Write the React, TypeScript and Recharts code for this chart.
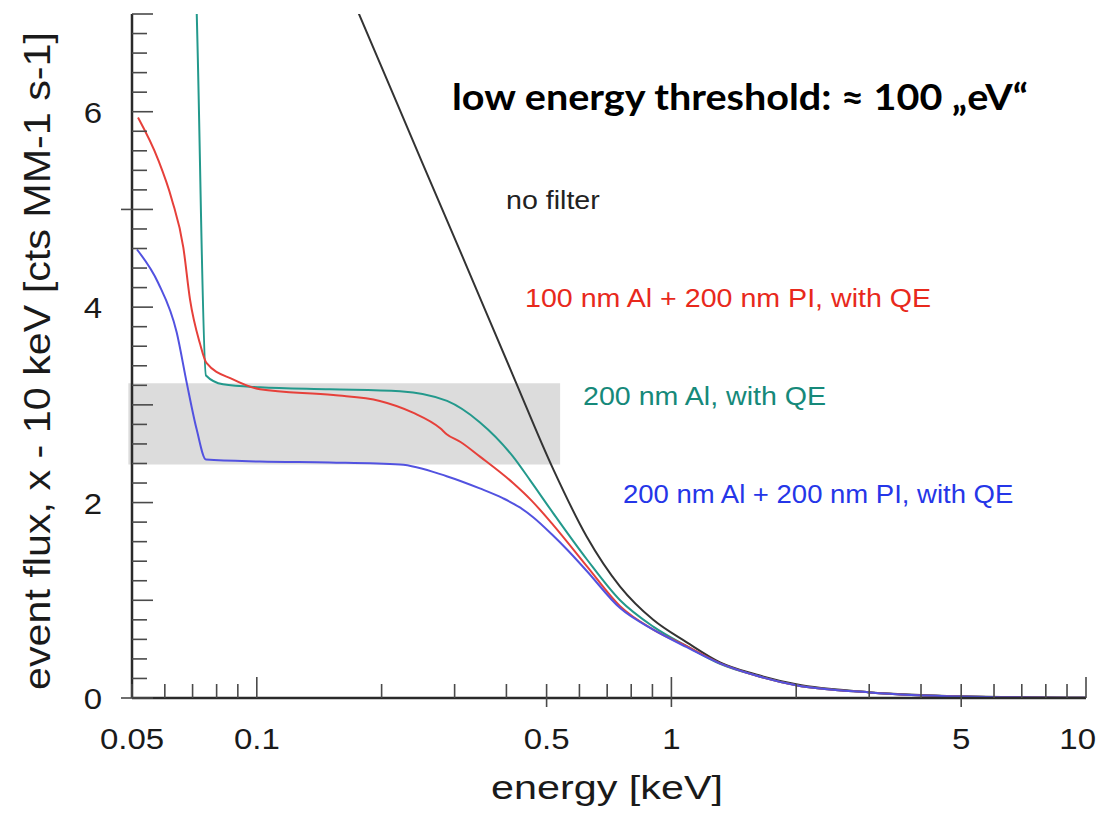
import React from "react";
import { LineChart, Line, XAxis, YAxis, ReferenceArea } from "recharts";

// energy [keV] / event flux [cts MM-1 s-1]
const noFilterE = [0.15, 0.198, 0.25, 0.3125, 0.415, 0.519, 0.625, 0.752, 0.904, 1.089, 1.31, 1.6, 2.0, 3.0, 5.0, 10];
const noFilterFlux = [7.7, 6.5, 5.49, 4.53, 3.3, 2.34, 1.65, 1.14, 0.8, 0.57, 0.365, 0.24, 0.14, 0.06, 0.018, 0.002];

const al200E = [0.06, 0.0707, 0.0754, 0.0829, 0.1018, 0.15, 0.2215, 0.2877, 0.3454, 0.415, 0.456, 0.519, 0.625, 0.752, 0.904, 1.089, 1.31, 1.6, 2.0, 3.0, 5.0, 10];
const al200Flux = [8.5, 7.6, 3.3, 3.21, 3.18, 3.16, 3.14, 3.04, 2.82, 2.47, 2.23, 1.89, 1.42, 1.0, 0.73, 0.53, 0.35, 0.23, 0.13, 0.057, 0.016, 0.002];

const al100PiE = [0.0517, 0.0578, 0.0624, 0.0665, 0.069, 0.0729, 0.0756, 0.0876, 0.1018, 0.153, 0.198, 0.238, 0.277, 0.287, 0.31, 0.3454, 0.415, 0.46, 0.519, 0.625, 0.752, 0.904, 1.089, 1.31, 1.6, 2.0, 3.0, 5.0, 10];
const al100PiFlux = [5.94, 5.51, 5.1, 4.61, 4.08, 3.63, 3.43, 3.26, 3.16, 3.1, 3.04, 2.92, 2.76, 2.7, 2.62, 2.47, 2.2, 2.02, 1.77, 1.35, 0.94, 0.7, 0.53, 0.355, 0.23, 0.13, 0.057, 0.016, 0.002];

const al200PiE = [0.0514, 0.0578, 0.0641, 0.0678, 0.0716, 0.0754, 0.1018, 0.15, 0.2215, 0.287, 0.345, 0.392, 0.431, 0.464, 0.519, 0.56, 0.625, 0.752, 0.904, 1.089, 1.31, 1.6, 2.0, 3.0, 5.0, 10];
const al200PiFlux = [4.59, 4.25, 3.74, 3.22, 2.75, 2.44, 2.42, 2.41, 2.39, 2.27, 2.145, 2.045, 1.95, 1.85, 1.66, 1.52, 1.3, 0.92, 0.7, 0.52, 0.355, 0.23, 0.13, 0.057, 0.016, 0.002];

// shaded threshold band
const bandE = [0.049, 0.539];
const bandFlux = [2.39, 3.22];

// axis ticks
const xTicks = [0.05, 0.06, 0.07, 0.08, 0.09, 0.1, 0.2, 0.3, 0.4, 0.5, 0.6, 0.7, 0.8, 0.9, 1, 2, 3, 4, 5, 6, 7, 8, 9, 10];
const xLabelValues = [0.05, 0.1, 0.5, 1, 5, 10];
const xLabelTexts = ["0.05", "0.1", "0.5", "1", "5", "10"];
const xLongTicks = [0.1, 1, 10];
const xCrossTicks = [0.5, 1, 5];
const yTicks = Array.from({ length: 36 }, (_, i) => Math.round(i * 2) / 10);
const yLabelValues = [0, 2, 4, 6];
const yCrossTicks = [0, 5];

const toPoints = (e: number[], v: number[]) => e.map((x, i) => ({ e: x, v: v[i] }));

const TICK = "#4a4a4a";
const FRAME = "#2a2a2a";
const FONT = "'Liberation Sans', Arial, Helvetica, sans-serif";

function XTick(props: any) {
  const { x, y, payload, top } = props;
  const v = payload.value;
  const inLen = xLongTicks.includes(v) ? 21 : 14;
  const outLen = xCrossTicks.includes(v) ? 9 : 0;
  const dir = top ? 1 : -1;
  const idx = xLabelValues.indexOf(v);
  // last label sits at the right edge, keep it inside the frame
  const last = idx === xLabelValues.length - 1;
  return (
    <g>
      <line x1={x} x2={x} y1={y - dir * outLen} y2={y + dir * inLen} stroke={TICK} strokeWidth={1.6} />
      {!top && idx >= 0 && (
        <text
          transform={`translate(${last ? x + 10 : x},${y + 51}) scale(1.1,1)`}
          textAnchor={last ? "end" : "middle"}
          fontFamily={FONT}
          fontSize={30}
          fill="#1a1a1a"
        >
          {xLabelTexts[idx]}
        </text>
      )}
    </g>
  );
}

function YTick(props: any) {
  const { x, y, payload, right } = props;
  const v = payload.value;
  const inLen = Number.isInteger(v) ? 21 : 15;
  const outLen = yCrossTicks.includes(v) ? 11 : 0;
  const dir = right ? -1 : 1;
  return (
    <g>
      <line x1={x - dir * outLen} x2={x + dir * inLen} y1={y} y2={y} stroke={TICK} strokeWidth={1.6} />
      {!right && yLabelValues.includes(v) && (
        <text
          transform={`translate(${x - 30},${y + 11}) scale(1.1,1)`}
          textAnchor="end"
          fontFamily={FONT}
          fontSize={30}
          fill="#1a1a1a"
        >
          {v}
        </text>
      )}
    </g>
  );
}

function Note({ x, y, size, color, children }: any) {
  return (
    <text transform={`translate(${x},${y}) scale(1.1,1)`} fontFamily={FONT} fontSize={size} fill={color}>
      {children}
    </text>
  );
}

export default function App() {
  // container pulled over the body margin so chart coords == page coords
  const W = 1105;
  const H = 815;
  const axisLine = { stroke: FRAME, strokeWidth: 2.5 };
  return (
    <div style={{ position: "relative", width: W, height: H, margin: "-8px 0 -8px -8px" }}>
      <LineChart width={W} height={H} margin={{ top: 14, right: 19, bottom: 57, left: 32 }}>
        <XAxis
          xAxisId="bottom"
          dataKey="e"
          type="number"
          scale="log"
          domain={[0.05, 10]}
          allowDataOverflow
          ticks={xTicks}
          interval={0}
          tickSize={0}
          tickMargin={0}
          tickLine={false}
          axisLine={axisLine}
          height={60}
          tick={<XTick />}
        />
        <XAxis
          xAxisId="top"
          orientation="top"
          type="number"
          scale="log"
          domain={[0.05, 10]}
          allowDataOverflow
          ticks={xTicks}
          interval={0}
          tickSize={0}
          tickMargin={0}
          tickLine={false}
          axisLine={axisLine}
          height={0}
          tick={<XTick top />}
        />
        <YAxis
          yAxisId="left"
          type="number"
          domain={[0, 7]}
          allowDataOverflow
          ticks={yTicks}
          interval={0}
          tickSize={0}
          tickMargin={0}
          tickLine={false}
          axisLine={axisLine}
          width={100}
          tick={<YTick />}
        />
        <YAxis
          yAxisId="right"
          orientation="right"
          type="number"
          domain={[0, 7]}
          allowDataOverflow
          ticks={yTicks}
          interval={0}
          tickSize={0}
          tickMargin={0}
          tickLine={false}
          axisLine={axisLine}
          width={0}
          tick={<YTick right />}
        />
        <ReferenceArea
          xAxisId="bottom"
          yAxisId="left"
          x1={bandE[0]}
          x2={bandE[1]}
          y1={bandFlux[0]}
          y2={bandFlux[1]}
          fill="#dcdcdc"
          fillOpacity={1}
          stroke="none"
          ifOverflow="visible"
        />
        <Line
          xAxisId="bottom"
          yAxisId="left"
          data={toPoints(noFilterE, noFilterFlux)}
          dataKey="v"
          type="monotoneX"
          stroke="#333333"
          strokeWidth={2}
          dot={false}
          activeDot={false}
          isAnimationActive={false}
        />
        <Line
          xAxisId="bottom"
          yAxisId="left"
          data={toPoints(al200E, al200Flux)}
          dataKey="v"
          type="monotoneX"
          stroke="#23998c"
          strokeWidth={2}
          dot={false}
          activeDot={false}
          isAnimationActive={false}
        />
        <Line
          xAxisId="bottom"
          yAxisId="left"
          data={toPoints(al100PiE, al100PiFlux)}
          dataKey="v"
          type="monotoneX"
          stroke="#e6403a"
          strokeWidth={2}
          dot={false}
          activeDot={false}
          isAnimationActive={false}
        />
        <Line
          xAxisId="bottom"
          yAxisId="left"
          data={toPoints(al200PiE, al200PiFlux)}
          dataKey="v"
          type="monotoneX"
          stroke="#5252e0"
          strokeWidth={2}
          dot={false}
          activeDot={false}
          isAnimationActive={false}
        />
      </LineChart>
      <svg
        width={W}
        height={H}
        style={{ position: "absolute", left: 0, top: 0, pointerEvents: "none" }}
      >
        <text
          x={452}
          y={110}
          fontFamily="Lato, 'DejaVu Sans', sans-serif"
          fontWeight="bold"
          fontSize={36}
          fill="#000"
          textLength={576}
          lengthAdjust="spacingAndGlyphs"
        >
          low energy threshold: ≈ 100 „eV“
        </text>
        <Note x={506} y={209} size={26} color="#222">no filter</Note>
        <Note x={525} y={307} size={26} color="#e8291c">100 nm Al + 200 nm PI, with QE</Note>
        <Note x={583} y={405} size={26} color="#16897a">200 nm Al, with QE</Note>
        <Note x={623} y={503} size={25} color="#2536e8">200 nm Al + 200 nm PI, with QE</Note>
        <text
          transform="translate(50,361) rotate(-90)"
          textAnchor="middle"
          fontFamily={FONT}
          fontSize={36}
          fill="#1a1a1a"
          textLength={658}
          lengthAdjust="spacingAndGlyphs"
        >
          event flux, x - 10 keV  [cts MM-1 s-1]
        </text>
        <text
          x={607}
          y={799}
          textAnchor="middle"
          fontFamily={FONT}
          fontSize={33}
          fill="#1a1a1a"
          textLength={232}
          lengthAdjust="spacingAndGlyphs"
        >
          energy  [keV]
        </text>
      </svg>
    </div>
  );
}
